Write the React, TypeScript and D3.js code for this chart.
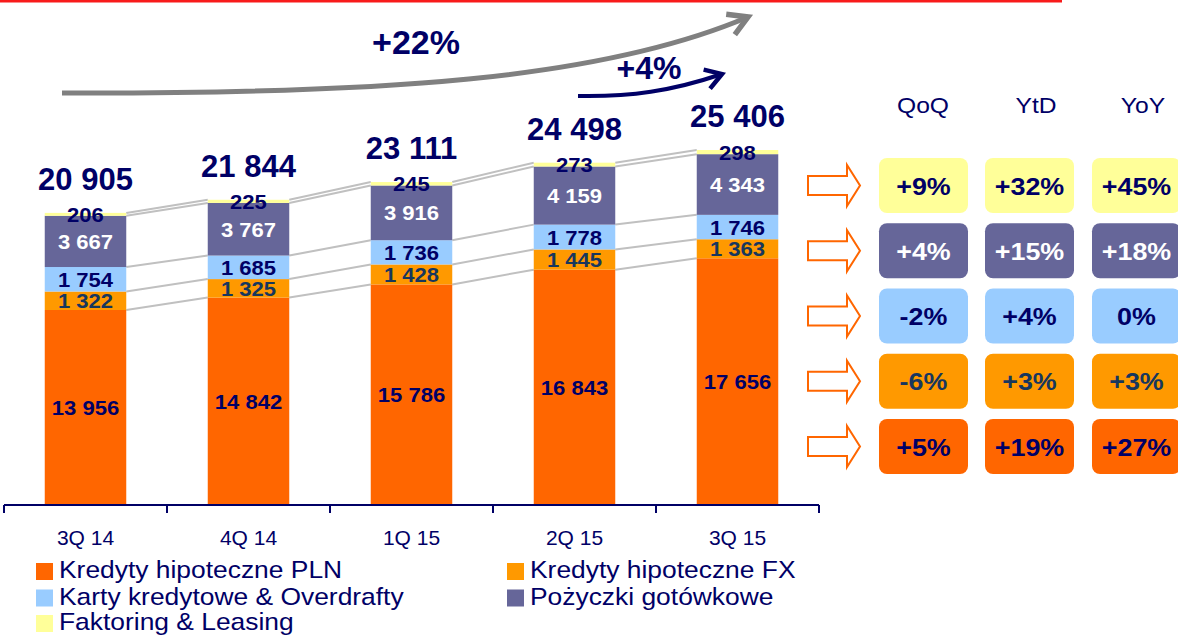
import React from "react";
import * as d3 from "d3";

// quarters on the axis
const quarters = ["3Q 14", "4Q 14", "1Q 15", "2Q 15", "3Q 15"];

// stacked series, bottom to top
const kredytyPLN = [13956, 14842, 15786, 16843, 17656];
const kredytyFX = [1322, 1325, 1428, 1445, 1363];
const karty = [1754, 1685, 1736, 1778, 1746];
const pozyczki = [3667, 3767, 3916, 4159, 4343];
const faktoring = [206, 225, 245, 273, 298];

const totals = [20905, 21844, 23111, 24498, 25406];

const seriesNames = [
  "Kredyty hipoteczne PLN",
  "Kredyty hipoteczne FX",
  "Karty kredytowe & Overdrafty",
  "Pożyczki gotówkowe",
  "Faktoring & Leasing",
];
const seriesColors = ["#FF6600", "#FF9900", "#99CCFF", "#666699", "#FFFF99"];
const labelColors = ["#000066", "#17375E", "#000066", "#FFFFFF", "#000066"];

// growth table, rows top to bottom: Faktoring, Pożyczki, Karty, FX, PLN
const growthHeaders = ["QoQ", "YtD", "YoY"];
const qoq = ["+9%", "+4%", "-2%", "-6%", "+5%"];
const ytd = ["+32%", "+15%", "+4%", "+3%", "+19%"];
const yoy = ["+45%", "+18%", "0%", "+3%", "+27%"];

const growthTotal = "+22%";
const growthLast = "+4%";

const navy = "#000066";
const font = "'Liberation Sans', Arial, sans-serif";

const App = () => {
  const x = d3
    .scaleBand<string>()
    .domain(quarters)
    .range([4, 819])
    .paddingInner(0.5)
    .paddingOuter(0.25);
  const y = d3.scaleLinear().domain([0, 26000]).range([505, 141.7]);

  const table = quarters.map((q, i) => ({
    q,
    v0: kredytyPLN[i],
    v1: kredytyFX[i],
    v2: karty[i],
    v3: pozyczki[i],
    v4: faktoring[i],
  }));
  const keys = ["v0", "v1", "v2", "v3", "v4"];
  const stacked = d3.stack<any>().keys(keys)(table);

  const bw = x.bandwidth();
  const step = x.step();
  const fmt = (v: number) => d3.format(",")(v).replace(/,/g, " ");

  const tableRows = [0, 1, 2, 3, 4].map(r => [qoq[r], ytd[r], yoy[r]]);
  const rowSeries = [4, 3, 2, 1, 0];
  const colX = [879, 985, 1092];
  const headerX = [923, 1036, 1143];
  const boxW = 89;
  const boxH = 55;
  const rowTop = (r: number) => 158 + r * 65.25;

  const legendItems = [
    { s: 0, x: 36, y: 578 },
    { s: 1, x: 507, y: 578 },
    { s: 2, x: 36, y: 604.5 },
    { s: 3, x: 507, y: 604.5 },
    { s: 4, x: 36, y: 630 },
  ];

  return (
    <svg
      width={1178}
      height={635}
      style={{ position: "absolute", left: 0, top: 0, background: "#fff" }}
      fontFamily={font}
    >
      <defs>
        <marker id="headGray" markerUnits="userSpaceOnUse" viewBox="-24 -14 30 28"
          markerWidth={30} markerHeight={28} refX={0} refY={0} orient="auto">
          <path d="M-19,-11 L0,0 L-19,11" fill="none" stroke="#808080" strokeWidth={5.5} />
        </marker>
        <marker id="headNavy" markerUnits="userSpaceOnUse" viewBox="-24 -14 30 28"
          markerWidth={30} markerHeight={28} refX={0} refY={0} orient="auto">
          <path d="M-16,-10 L0,0 L-16,10" fill="none" stroke={navy} strokeWidth={4.5} />
        </marker>
      </defs>

      {/* red rule at the top */}
      <rect x={0} y={0} width={1062} height={2.5} fill="#F81B1B" />

      {/* growth arrows */}
      <path d="M62,93 C380,94 600,80 748,17" fill="none" stroke="#808080" strokeWidth={5}
        markerEnd="url(#headGray)" />
      <text x={416} y={54} textAnchor="middle" fontSize={34} fontWeight="bold" fill={navy}>
        {growthTotal}
      </text>
      <path d="M578,96 C630,97 672,91 722,74" fill="none" stroke={navy} strokeWidth={4}
        markerEnd="url(#headNavy)" />
      <text x={649} y={79} textAnchor="middle" fontSize={32} fontWeight="bold" fill={navy}>
        {growthLast}
      </text>

      {/* connector lines between bars */}
      {stacked.map((layer, li) =>
        layer.slice(0, -1).map((d, i) => (
          <line
            key={`c${li}-${i}`}
            x1={x(quarters[i])! + bw}
            y1={y(d[1])}
            x2={x(quarters[i + 1])!}
            y2={y(layer[i + 1][1])}
            stroke="#C0C0C0"
            strokeWidth={2}
          />
        ))
      )}

      {/* bars */}
      {stacked.map((layer, li) => (
        <g key={li} fill={seriesColors[li]}>
          {layer.map((d, i) => (
            <rect key={i} x={x(quarters[i])} y={y(d[1])} width={bw} height={y(d[0]) - y(d[1])} />
          ))}
        </g>
      ))}

      {/* segment labels */}
      {stacked.map((layer, li) =>
        layer.map((d, i) => (
          <text
            key={`l${li}-${i}`}
            transform={`translate(${x(quarters[i])! + bw / 2},${(y(d[0]) + y(d[1])) / 2 + 7.5}) scale(1.05,1)`}
            textAnchor="middle"
            fontSize={21}
            fontWeight="bold"
            fill={labelColors[li]}
          >
            {fmt(d[1] - d[0])}
          </text>
        ))
      )}

      {/* totals */}
      {totals.map((t, i) => (
        <text key={`t${i}`} x={x(quarters[i])! + bw / 2} y={y(t) - 23} textAnchor="middle"
          fontSize={31} fontWeight="bold" fill={navy}>
          {fmt(t)}
        </text>
      ))}

      {/* axis */}
      <line x1={4} x2={819} y1={505} y2={505} stroke={navy} strokeWidth={2} />
      {quarters.map((q, i) => (
        <line key={`tk${i}`} x1={x(q)! - (step - bw) / 2} x2={x(q)! - (step - bw) / 2}
          y1={505} y2={513} stroke={navy} strokeWidth={2} />
      ))}
      <line x1={819} x2={819} y1={505} y2={513} stroke={navy} strokeWidth={2} />
      {quarters.map((q, i) => (
        <text key={`q${i}`} x={x(q)! + bw / 2} y={545} textAnchor="middle" fontSize={21} fill={navy}>
          {q}
        </text>
      ))}

      {/* legend */}
      {legendItems.map(it => (
        <g key={`lg${it.s}`}>
          <rect x={it.x} y={it.y - 15} width={17} height={17} fill={seriesColors[it.s]} />
          <text transform={`translate(${it.x + 23},${it.y}) scale(1.1,1)`} fontSize={24} fill={navy}>
            {seriesNames[it.s]}
          </text>
        </g>
      ))}

      {/* growth table */}
      {growthHeaders.map((h, c) => (
        <text key={h} transform={`translate(${headerX[c]},113) scale(1.12,1)`} textAnchor="middle"
          fontSize={22} fill={navy}>
          {h}
        </text>
      ))}
      {tableRows.map((row, r) => {
        const cy = rowTop(r) + boxH / 2;
        const s = rowSeries[r];
        return (
          <g key={`row${r}`}>
            <path
              d={`M808,${cy - 9.5} L847,${cy - 9.5} L847,${cy - 20.5} L860,${cy} L847,${cy + 20.5} L847,${cy + 9.5} L808,${cy + 9.5} Z`}
              fill="#fff"
              stroke="#FF6600"
              strokeWidth={2}
            />
            {row.map((v, c) => (
              <g key={c}>
                <rect x={colX[c]} y={rowTop(r)} width={boxW} height={boxH} rx={8} fill={seriesColors[s]} />
                <text transform={`translate(${colX[c] + boxW / 2},${cy + 9}) scale(1.12,1)`}
                  textAnchor="middle" fontSize={24} fontWeight="bold" fill={labelColors[s]}>
                  {v}
                </text>
              </g>
            ))}
          </g>
        );
      })}
    </svg>
  );
};

export default App;
